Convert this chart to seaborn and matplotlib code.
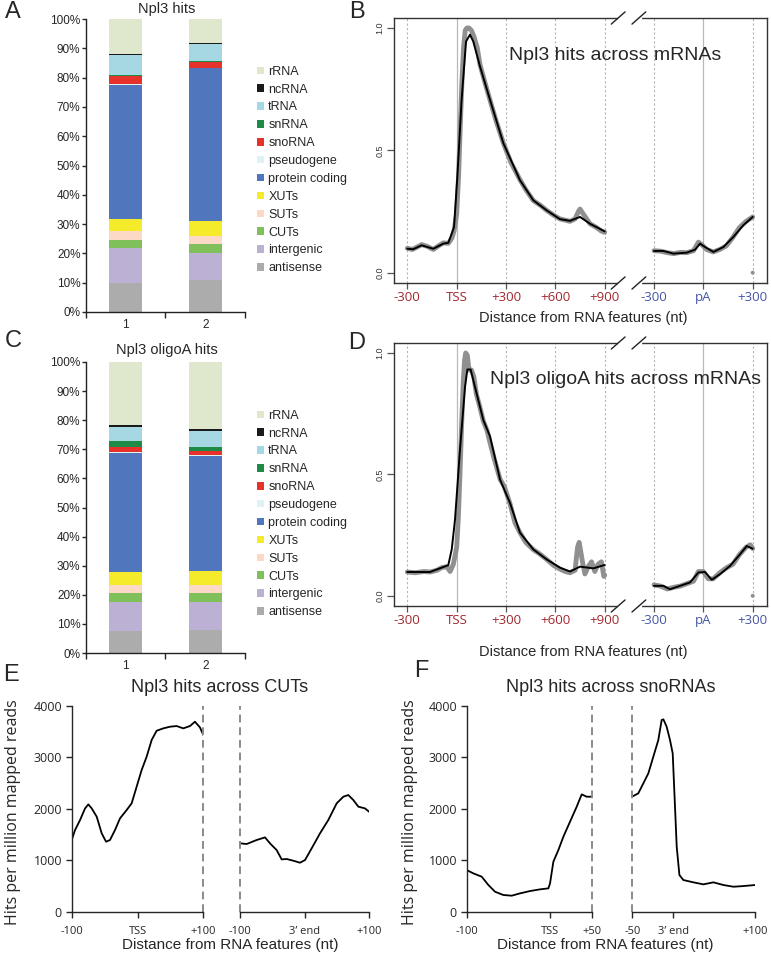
import numpy as np
import seaborn as sns
import matplotlib.pyplot as plt
import matplotlib.transforms as mtransforms
from matplotlib.patches import Patch

W, H = 771, 960

# ---------------- data ----------------
categories = ["antisense", "intergenic", "CUTs", "SUTs", "XUTs", "protein coding",
              "pseudogene", "snoRNA", "snRNA", "tRNA", "ncRNA", "rRNA"]
cat_colors = ["#acacac", "#bdb0d5", "#80c05a", "#fbd9c6", "#f5eb2b", "#5077be",
              "#dff2f3", "#e6322b", "#1d8b46", "#a5d8e3", "#1a1a1a", "#dfe8cc"]
samples = ["1", "2"]

# % of hits per category, bottom -> top
hits_s1 = [10.0, 11.8, 2.8, 2.9, 4.3, 45.8, 0.1, 2.9, 0.3, 6.9, 0.4, 11.8]
hits_s2 = [10.8, 9.2, 3.1, 2.8, 5.3, 52.0, 0.1, 2.1, 0.1, 6.0, 0.3, 8.2]
oligo_s1 = [7.5, 10.0, 3.2, 2.5, 4.6, 41.1, 0.1, 1.9, 2.0, 4.9, 0.5, 21.7]
oligo_s2 = [8.0, 9.5, 3.2, 2.7, 4.8, 39.6, 0.1, 1.6, 1.4, 5.5, 0.5, 23.1]

# metagene positions: -300..+900 around TSS, then -300..+300 around pA (shifted by 1500)
mrna_ticks = [-300, 0, 300, 600, 900, 1200, 1500, 1800]
mrna_labels = ["-300", "TSS", "+300", "+600", "+900", "-300", "pA", "+300"]

b_tss_x = [-300, -264, -213, -142, -81, -51, -30, -16, 4, 30, 57, 81, 101, 142, 203, 284,
           385, 466, 547, 628, 689, 750, 811, 900]
b_tss_y = [0.098, 0.096, 0.112, 0.098, 0.119, 0.122, 0.16, 0.187, 0.39, 0.706, 0.945, 0.973,
           0.945, 0.843, 0.706, 0.529, 0.378, 0.296, 0.255, 0.219, 0.212, 0.228, 0.2, 0.169]
b_pa_x = [1200, 1257, 1318, 1399, 1449, 1480, 1510, 1561, 1622, 1682, 1743, 1800]
b_pa_y = [0.089, 0.089, 0.078, 0.082, 0.094, 0.119, 0.105, 0.085, 0.105, 0.146, 0.194, 0.228]
b_raw_tss_x = [-300, -270, -240, -213, -180, -142, -110, -81, -51, -30, -16, 0, 12, 22, 32, 42,
               52, 62, 75, 90, 105, 125, 142, 175, 203, 240, 284, 330, 385, 420, 466, 510, 547,
               590, 628, 660, 689, 720, 740, 750, 770, 811, 850, 880, 900]
b_raw_tss_y = [0.10, 0.095, 0.105, 0.115, 0.108, 0.095, 0.11, 0.122, 0.12, 0.14, 0.17, 0.24,
               0.40, 0.60, 0.78, 0.92, 0.99, 1.0, 1.0, 0.99, 0.965, 0.92, 0.85, 0.77, 0.705,
               0.62, 0.53, 0.45, 0.38, 0.34, 0.295, 0.275, 0.255, 0.235, 0.22, 0.215, 0.21,
               0.22, 0.25, 0.26, 0.24, 0.2, 0.185, 0.17, 0.165]
b_raw_pa_x = [1200, 1240, 1280, 1320, 1360, 1400, 1440, 1470, 1490, 1520, 1560, 1600, 1640,
              1680, 1720, 1760, 1800]
b_raw_pa_y = [0.09, 0.088, 0.082, 0.078, 0.083, 0.082, 0.09, 0.125, 0.115, 0.095, 0.085,
              0.095, 0.11, 0.145, 0.185, 0.21, 0.228]

d_tss_x = [-300, -162, -91, -51, -30, -10, 20, 51, 65, 85, 111, 162, 203, 264, 324, 385, 466,
           547, 628, 689, 750, 831, 900]
d_tss_y = [0.098, 0.098, 0.116, 0.126, 0.191, 0.314, 0.6, 0.861, 0.932, 0.932, 0.861, 0.724,
           0.656, 0.478, 0.383, 0.26, 0.191, 0.15, 0.116, 0.1, 0.12, 0.113, 0.127]
d_pa_x = [1200, 1257, 1297, 1358, 1419, 1470, 1510, 1551, 1601, 1662, 1723, 1764, 1800]
d_pa_y = [0.041, 0.041, 0.027, 0.041, 0.055, 0.096, 0.098, 0.066, 0.089, 0.123, 0.171, 0.205,
          0.194]
d_raw_tss_x = [-300, -250, -200, -162, -120, -91, -60, -40, -20, 0, 10, 20, 30, 40, 48, 55, 65,
               75, 90, 105, 120, 140, 162, 185, 203, 230, 264, 290, 324, 355, 385, 420, 466,
               500, 547, 590, 628, 660, 689, 720, 735, 745, 755, 765, 780, 800, 820, 840, 860,
               880, 895, 900]
d_raw_tss_y = [0.098, 0.095, 0.1, 0.098, 0.105, 0.116, 0.12, 0.1, 0.13, 0.2, 0.32, 0.5, 0.7,
               0.88, 0.97, 1.0, 0.99, 0.93, 0.93, 0.9, 0.83, 0.78, 0.72, 0.68, 0.63, 0.56, 0.48,
               0.45, 0.38, 0.3, 0.26, 0.22, 0.19, 0.175, 0.15, 0.125, 0.11, 0.1, 0.095, 0.105,
               0.2, 0.22, 0.18, 0.14, 0.09, 0.12, 0.14, 0.1, 0.13, 0.14, 0.08, 0.085]
d_raw_pa_x = [1200, 1240, 1280, 1320, 1360, 1400, 1440, 1470, 1500, 1530, 1560, 1600, 1640,
              1680, 1720, 1760, 1785, 1800]
d_raw_pa_y = [0.045, 0.04, 0.028, 0.035, 0.04, 0.05, 0.06, 0.1, 0.1, 0.07, 0.07, 0.095, 0.115,
              0.13, 0.17, 0.2, 0.21, 0.195]

# E: CUTs, F: snoRNAs (hits per million mapped reads)
e_tss_x = [-100, -94.9, -87.3, -79.7, -74.7, -69.6, -62.0, -54.4, -47.8, -41.8, -34.2, -26.6,
           -16.5, -8.9, -1.3, 6.3, 13.9, 21.5, 29.1, 39.2, 49.4, 59.5, 69.6, 79.7, 87.3, 94.9, 100]
e_tss_y = [1392, 1586, 1780, 2006, 2084, 2006, 1845, 1521, 1359, 1392, 1586, 1812, 1974, 2104,
           2427, 2751, 3010, 3333, 3514, 3560, 3592, 3605, 3560, 3605, 3689, 3579, 3430]
e_end_x = [-99, -89.7, -74.2, -61.2, -53.5, -43.2, -35.4, -27.6, -17.3, -7.0, 0.8, 11.1, 24.0,
           36.9, 49.9, 60.2, 68.0, 75.7, 83.5, 93.8, 100]
e_end_y = [1327, 1314, 1392, 1443, 1327, 1197, 1016, 1023, 990, 951, 1003, 1230, 1521, 1780,
           2104, 2233, 2265, 2168, 2039, 2006, 1942]
f_tss_x = [-100, -92, -82, -74, -66, -56, -46, -36, -24, -12, -2, 0, 4, 10, 16, 24, 32, 38, 44, 50]
f_tss_y = [809, 744, 680, 518, 388, 324, 311, 356, 401, 434, 453, 550, 971, 1197, 1456, 1748,
           2039, 2278, 2233, 2233]
f_end_x = [-48.8, -42.7, -36.5, -30.4, -24.3, -18.2, -14.1, -12.0, -8.0, -3.9, -0.6, 2.2, 4.3,
           7.6, 12.4, 24.7, 36.9, 49.2, 61.4, 73.7, 85.9, 100]
f_end_y = [2246, 2298, 2492, 2686, 3010, 3333, 3722, 3735, 3592, 3333, 3074, 2039, 1262, 712,
           615, 570, 531, 570, 518, 485, 498, 518]

# ---------------- style ----------------
sns.set_style("ticks")
plt.rcParams["font.family"] = ["Liberation Sans", "DejaVu Sans"]
plt.rcParams["axes.linewidth"] = 1.0
TICKFONT = "Open Sans"
RED = "#a3282e"
BLUE = "#4555a6"

fig = plt.figure(figsize=(W / 100, H / 100), dpi=100)


def px_axes(l, t, r, b):
    return fig.add_axes([l / W, 1 - b / H, (r - l) / W, (b - t) / H])


def ftext(x, y, s, **kw):
    fig.text(x / W, 1 - y / H, s, **kw)


# ---------------- A / C stacked bars ----------------
def stacked(ax, s1, s2, title, ty, legend_y):
    xs = np.arange(1, 3)
    vals = np.array([s1, s2])
    bottoms = np.zeros(2)
    for i, cat in enumerate(categories):
        ax.bar(xs, vals[:, i], bottom=bottoms, width=0.41, color=cat_colors[i],
               edgecolor="none", label=cat)
        bottoms += vals[:, i]
    ax.set_xlim(0.5, 2.5)
    ax.set_ylim(0, 100)
    ax.set_yticks(np.arange(0, 101, 10))
    ax.set_yticklabels([f"{v}%" for v in range(0, 101, 10)], fontsize=8.5)
    ax.set_xticks(xs)
    ax.set_xticklabels(samples, fontsize=8.5)
    ax.set_xticks([0.5, 1.5, 2.5], minor=True)
    ax.tick_params(axis="x", which="major", length=0, pad=5)
    ax.tick_params(axis="x", which="minor", length=4, width=1, direction="out")
    ax.tick_params(axis="y", length=3, width=1, direction="out", pad=1)
    for s in ["top", "right"]:
        ax.spines[s].set_visible(False)
    ax.spines["left"].set_color("#222")
    ax.spines["bottom"].set_color("#222")
    ftext(167, ty, title, ha="center", va="center", fontsize=10.5)
    handles = [Patch(facecolor=c, edgecolor="none", label=l)
               for l, c in zip(categories, cat_colors)][::-1]
    fig.legend(handles=handles, loc="center left",
               bbox_to_anchor=(257 / W, 1 - legend_y / H), frameon=False,
               fontsize=9, handlelength=0.55, handleheight=0.55, handletextpad=0.35,
               labelspacing=0.47, borderpad=0, borderaxespad=0)


axA = px_axes(86, 19, 245, 312)
stacked(axA, hits_s1, hits_s2, "Npl3 hits", 9, 170)
axC = px_axes(86, 362, 245, 653)
stacked(axC, oligo_s1, oligo_s2, "Npl3 oligoA hits", 350, 514)


# ---------------- B / D metagene profiles ----------------
def metagene(ax, tss_x, tss_y, pa_x, pa_y, raw_tss_x, raw_tss_y, raw_pa_x, raw_pa_y,
             title, tx, ty):
    for xv in [-300, 300, 600, 900, 1200, 1800]:
        ax.axvline(xv, color="#b5b5b5", lw=0.8, ls=(0, (2, 2)), zorder=0)
    for xv in [0, 1500]:
        ax.axvline(xv, color="#b9b9b9", lw=0.9, zorder=0)
    for rx, ry in [(raw_tss_x, raw_tss_y), (raw_pa_x, raw_pa_y)]:
        sns.lineplot(x=rx, y=ry, ax=ax, color="#909090", lw=3.5, sort=False,
                     estimator=None, solid_capstyle="round", zorder=2)
    sns.scatterplot(x=[raw_pa_x[-1]], y=[0.0], ax=ax, color="#8f8f8f", s=8,
                    edgecolor="none", zorder=2)
    for lx, ly in [(tss_x, tss_y), (pa_x, pa_y)]:
        sns.lineplot(x=lx, y=ly, ax=ax, color="black", lw=1.4, sort=False,
                     estimator=None, zorder=3)
    ax.set_xlim(-381, 1887)
    ax.set_ylim(-0.042, 1.041)
    ax.set_yticks([0, 0.5, 1.0])
    ax.set_yticklabels(["0.0", "0.5", "1.0"], fontsize=6.5, rotation=90, va="center",
                       color="#333")
    ax.set_xticks(mrna_ticks)
    ax.set_xticklabels(mrna_labels, fontsize=9.5, family=TICKFONT)
    for i, lab in enumerate(ax.get_xticklabels()):
        lab.set_color(RED if i < 5 else BLUE)
    ax.tick_params(axis="x", length=4, width=0.9, color="#555", pad=2)
    ax.tick_params(axis="y", length=5, width=0.9, color="#555", pad=2)
    for s in ax.spines.values():
        s.set_color("#333")
        s.set_linewidth(1.0)
    # axis break between the two segments
    mid = (tss_x[-1] + pa_x[0]) / 2
    trans = mtransforms.blended_transform_factory(ax.transData, ax.transAxes)
    for yv in [0, 1]:
        ax.plot([mid - 62, mid + 62], [yv, yv], color="white", lw=2.5, transform=trans,
                clip_on=False, zorder=5)
        for off in [-68, 58]:
            ax.plot([mid + off - 42, mid + off + 42], [yv - 0.023, yv + 0.023],
                    color="#222", lw=1.0, transform=trans, clip_on=False, zorder=6)
    ax.set_xlabel("")
    ax.set_ylabel("")
    ftext(tx, ty, title, ha="center", va="center", fontsize=14)


axB = px_axes(394, 18, 767, 283)
metagene(axB, b_tss_x, b_tss_y, b_pa_x, b_pa_y, b_raw_tss_x, b_raw_tss_y,
         b_raw_pa_x, b_raw_pa_y, "Npl3 hits across mRNAs", 615, 55)
ftext(583, 318, "Distance from RNA features (nt)", ha="center", va="center", fontsize=10.5)
axD = px_axes(394, 343, 767, 606)
metagene(axD, d_tss_x, d_tss_y, d_pa_x, d_pa_y, d_raw_tss_x, d_raw_tss_y,
         d_raw_pa_x, d_raw_pa_y, "Npl3 oligoA hits across mRNAs", 626, 380)
ftext(583, 652, "Distance from RNA features (nt)", ha="center", va="center", fontsize=10.5)


# ---------------- E / F feature profiles ----------------
def profile_pair(rect_l, rect_r, lx, ly, rx, ry, lxt, lxl, rxt, rxl):
    axl = px_axes(*rect_l)
    axr = px_axes(*rect_r)
    sns.lineplot(x=lx, y=ly, ax=axl, color="black", lw=1.3, sort=False, estimator=None)
    sns.lineplot(x=rx, y=ry, ax=axr, color="black", lw=1.3, sort=False, estimator=None)
    axl.set_xlim(lxt[0], lxt[-1])
    axr.set_xlim(rxt[0], rxt[-1])
    for a in (axl, axr):
        a.set_ylim(0, 4000)
        a.spines["top"].set_visible(False)
        a.spines["right"].set_visible(False)
        a.tick_params(axis="both", length=4, width=1, direction="out", pad=3)
        a.tick_params(axis="x", pad=6)
        a.set_xlabel("")
        a.set_ylabel("")
    axl.axvline(lxt[-1], color="#8a8a8a", lw=1.4, ls=(0, (4, 2.5)), clip_on=False)
    axr.axvline(rxt[0], color="#8a8a8a", lw=1.4, ls=(0, (4, 2.5)), clip_on=False)
    axl.set_yticks([0, 1000, 2000, 3000, 4000])
    axl.set_yticklabels(["0", "1000", "2000", "3000", "4000"], fontsize=9, family=TICKFONT)
    axl.set_xticks(lxt)
    axl.set_xticklabels(lxl, fontsize=8, family=TICKFONT)
    axr.set_xticks(rxt)
    axr.set_xticklabels(rxl, fontsize=8, family=TICKFONT)
    axr.spines["left"].set_visible(False)
    axr.set_yticks([])
    return axl, axr


profile_pair((71.7, 705.7, 203.3, 911.7), (240, 705.7, 369, 911.7),
             e_tss_x, e_tss_y, e_end_x, e_end_y,
             [-100, 0, 100], ["-100", "TSS", "+100"], [-100, 0, 100], ["-100", "3\u2019 end", "+100"])
profile_pair((466.7, 705.7, 591.7, 911.7), (632.3, 705.7, 755, 911.7),
             f_tss_x, f_tss_y, f_end_x, f_end_y,
             [-100, 0, 50], ["-100", "TSS", "+50"], [-50, 0, 100], ["-50", "3\u2019 end", "+100"])

ftext(220, 688, "Npl3 hits across CUTs", ha="center", va="center", fontsize=13)
ftext(611, 688, "Npl3 hits across snoRNAs", ha="center", va="center", fontsize=13)
for x in (13, 410):
    ftext(x, 812, "Hits per million mapped reads", ha="center", va="center", rotation=90,
          fontsize=11.5, family=TICKFONT)
ftext(230, 945, "Distance from RNA features (nt)", ha="center", va="center", fontsize=11)
ftext(605, 945, "Distance from RNA features (nt)", ha="center", va="center", fontsize=11)

# panel letters
for letter, x, y in [("A", 13, 12), ("B", 357, 12), ("C", 13, 341), ("D", 357, 343),
                     ("E", 11, 675), ("F", 421, 671)]:
    ftext(x, y, letter, ha="center", va="center", fontsize=17)

fig.savefig("out.png", dpi=100)
